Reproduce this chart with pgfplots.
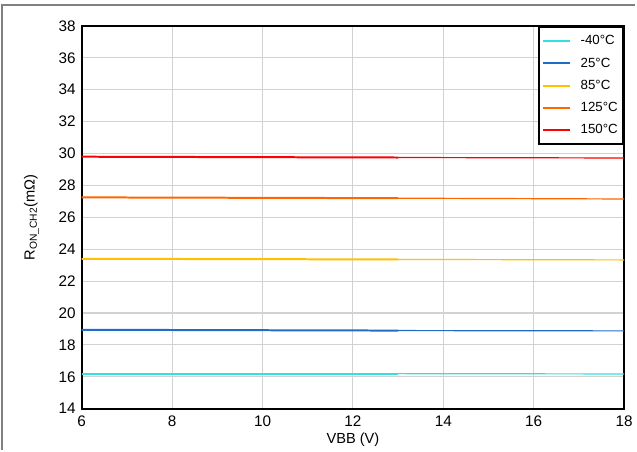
\documentclass[border=0pt]{standalone}
\usepackage{pgfplots}
\pgfplotsset{compat=1.18}
\usepackage{fontspec}
\setmainfont{Liberation Sans}
\definecolor{cA}{RGB}{51,224,224}
\definecolor{cB}{RGB}{30,110,200}
\definecolor{cC}{RGB}{255,192,0}
\definecolor{cD}{RGB}{255,102,0}
\definecolor{cE}{RGB}{255,0,0}
\definecolor{gridc}{RGB}{210,210,210}
\definecolor{framec}{RGB}{128,128,128}
\begin{document}
\begin{tikzpicture}[x=1pt,y=1pt]
\begin{axis}[
  at={(0pt,0pt)}, anchor=south west,
  scale only axis, width=408pt, height=288pt,
  xmin=6, xmax=18, ymin=14, ymax=38,
  xtick={6,8,...,18}, ytick={14,16,...,38},
  major tick length=0pt,
  grid=major, grid style={gridc, line width=0.8pt},
  axis line style={black, line width=1.5pt},
  ticklabel style={font=\fontsize{11.5}{13}\selectfont},
  /pgf/number format/assume math mode=true,
  xticklabel style={anchor=north, text height=8.5pt, text depth=0pt, yshift=-1pt},
  yticklabel style={xshift=-1pt},
  xlabel={VBB (V)}, ylabel={R\textsubscript{ON\_CH2}(mΩ)},
  label style={font=\fontsize{11}{13}\selectfont},
  xlabel style={yshift=1.5pt},
  ylabel style={yshift=8pt},
  legend style={at={(1,1)}, anchor=north east, draw=black, line width=1.5pt,
    font=\fontsize{10}{12}\selectfont, inner xsep=2.5pt, inner ysep=5pt,
    row sep=5.2pt, nodes={inner sep=1.5pt}},
  legend cell align=left,
  legend image code/.code={\draw[#1, line width=1.5pt] (0pt,0pt) -- (20pt,0pt);},
  every axis plot/.append style={line width=1.5pt},
]
\addplot[cA] coordinates {(6,16.2) (13,16.2)};
\addlegendentry{\hspace{6pt}-40°C}
\addplot[cB] coordinates {(6,18.95) (13,18.9)};
\addlegendentry{\hspace{6pt}25°C}
\addplot[cC] coordinates {(6,23.4) (13,23.36)};
\addlegendentry{\hspace{6pt}85°C}
\addplot[cD] coordinates {(6,27.25) (13,27.2)};
\addlegendentry{\hspace{6pt}125°C}
\addplot[cE] coordinates {(6,29.8) (13,29.75)};
\addlegendentry{\hspace{6pt}150°C}
\addplot[cA, line width=0.9pt, forget plot] coordinates {(13,16.2) (18,16.18)};
\addplot[cB, line width=0.9pt, forget plot] coordinates {(13,18.9) (18,18.88)};
\addplot[cC, line width=0.9pt, forget plot] coordinates {(13,23.36) (18,23.33)};
\addplot[cD, line width=0.9pt, forget plot] coordinates {(13,27.2) (18,27.15)};
\addplot[cE, line width=0.9pt, forget plot] coordinates {(13,29.75) (18,29.72)};
\end{axis}
\path[use as bounding box] (-61.5pt,-30.75pt) rectangle (416.25pt,307.5pt);
\draw[framec, line width=1.5pt] (-60pt,-30.75pt) -- (-60pt,303.75pt) -- (416.25pt,303.75pt);
\end{tikzpicture}
\end{document}
